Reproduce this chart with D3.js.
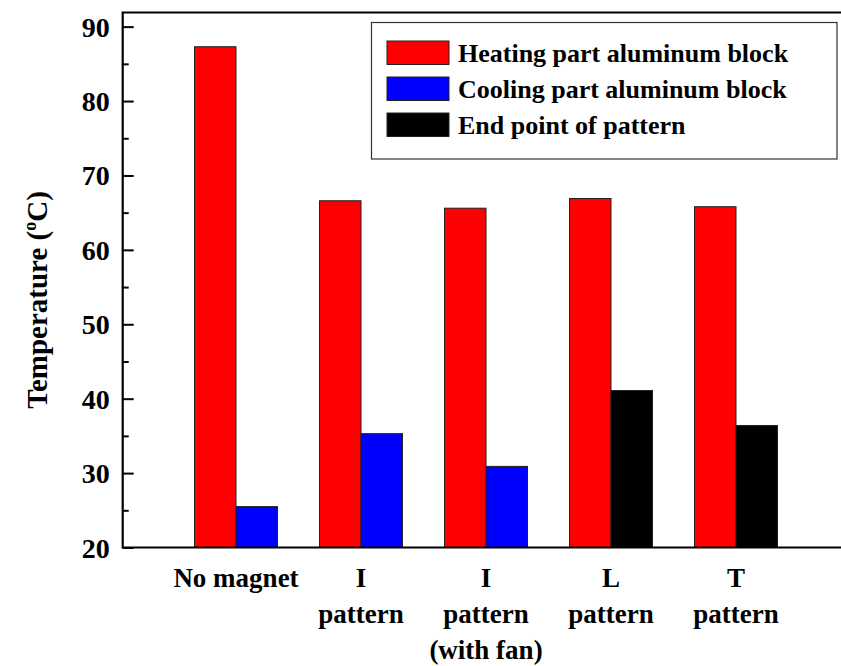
<!DOCTYPE html>
<html>
<head>
<meta charset="utf-8">
<script src="https://cdn.jsdelivr.net/npm/d3@7"></script>
<style>
  body { margin: 0; background: #fff; }
  svg { display: block; }
</style>
</head>
<body>
<div id="chart"></div>
<script>
const width = 841;
const height = 666;
const margin = { top: 12.5, right: -2, bottom: 118.5, left: 122.7 };
const fontFamily = "'Liberation Serif', 'Times New Roman', serif";

// data
const categories = ["No magnet", "I pattern", "I pattern (with fan)", "L pattern", "T pattern"];
const categoryLines = [["No magnet"], ["I", "pattern"], ["I", "pattern", "(with fan)"], ["L", "pattern"], ["T", "pattern"]];
const heatingValues = [87.3, 66.6, 65.6, 66.9, 65.8];
const secondValues = [25.5, 35.3, 30.9, 41.1, 36.4];
const secondSeries = ["cool", "cool", "cool", "end", "end"];
const seriesNames = ["Heating part aluminum block", "Cooling part aluminum block", "End point of pattern"];
const seriesColors = { heat: "#ff0000", cool: "#0000ff", end: "#000000" };
const yMajorTicks = [20, 30, 40, 50, 60, 70, 80, 90];
const yMinorTicks = [25, 35, 45, 55, 65, 75, 85];

const svg = d3.select("#chart")
  .append("svg")
  .attr("width", width)
  .attr("height", height);

const x = d3.scaleBand()
  .domain(categories)
  .range([173.5, 798.5])
  .paddingInner(0.336)
  .paddingOuter(0.168);

const xSub = d3.scaleBand()
  .domain(["first", "second"])
  .range([0, x.bandwidth()]);

const y = d3.scaleLinear()
  .domain([20, 91.9])
  .range([height - margin.bottom, margin.top]);

const rows = categories.map((c, i) => [
  { cat: c, sub: "first", value: heatingValues[i], color: seriesColors.heat },
  { cat: c, sub: "second", value: secondValues[i], color: seriesColors[secondSeries[i]] }
]).flat();

svg.selectAll("rect.bar")
  .data(rows)
  .enter()
  .append("rect")
  .attr("class", "bar")
  .attr("x", d => x(d.cat) + xSub(d.sub))
  .attr("y", d => y(d.value))
  .attr("width", xSub.bandwidth())
  .attr("height", d => y(20) - y(d.value))
  .attr("fill", d => d.color)
  .attr("stroke", "#222")
  .attr("stroke-width", 1);

// minor ticks
svg.append("g")
  .attr("transform", `translate(${margin.left},0)`)
  .call(d3.axisLeft(y).tickValues(yMinorTicks).tickSize(-6).tickFormat(""))
  .call(g => g.select(".domain").remove())
  .call(g => g.selectAll("line").attr("stroke", "#000").attr("stroke-width", 2));

// major ticks
svg.append("g")
  .attr("transform", `translate(${margin.left},0)`)
  .call(d3.axisLeft(y).tickValues(yMajorTicks).tickSize(-11).tickPadding(13).tickFormat(d3.format("d")))
  .call(g => g.select(".domain").remove())
  .call(g => g.selectAll("line").attr("stroke", "#000").attr("stroke-width", 2))
  .call(g => g.selectAll("text")
    .style("font-family", fontFamily)
    .style("font-weight", "bold")
    .style("font-size", "28px")
    .attr("fill", "#000")
    .attr("dy", "0.34em"));

// frame
svg.append("path")
  .attr("d", `M${width + 2},${margin.top}H${margin.left}V${y(20)}H${width + 2}`)
  .attr("fill", "none")
  .attr("stroke", "#000")
  .attr("stroke-width", 2.2);

// x labels
const xl = svg.append("g");
categories.forEach((c, i) => {
  const t = xl.append("text")
    .attr("text-anchor", "middle")
    .style("font-family", fontFamily)
    .style("font-weight", "bold")
    .style("font-size", "27px")
    .attr("fill", "#000");
  categoryLines[i].forEach((line, j) => {
    t.append("tspan")
      .attr("x", x(c) + x.bandwidth() / 2)
      .attr("y", 587 + j * 36)
      .text(line);
  });
});

// y title
const yt = svg.append("text")
  .attr("transform", "translate(47,300) rotate(-90)")
  .attr("text-anchor", "middle")
  .style("font-family", fontFamily)
  .style("font-weight", "bold")
  .style("font-size", "29px")
  .attr("fill", "#000");
yt.append("tspan").text("Temperature (");
yt.append("tspan").style("font-size", "18px").attr("dy", -11).text("o");
yt.append("tspan").attr("dy", 11).text("C)");

// legend
const legend = svg.append("g");
legend.append("rect")
  .attr("x", 371.5)
  .attr("y", 22.5)
  .attr("width", 465.5)
  .attr("height", 136.5)
  .attr("fill", "#fff")
  .attr("stroke", "#333")
  .attr("stroke-width", 1.2);

const legendColors = [seriesColors.heat, seriesColors.cool, seriesColors.end];
seriesNames.forEach((name, i) => {
  legend.append("rect")
    .attr("x", 387)
    .attr("y", 41 + i * 36)
    .attr("width", 62)
    .attr("height", 23.5)
    .attr("fill", legendColors[i])
    .attr("stroke", "#222")
    .attr("stroke-width", 1);
  legend.append("text")
    .attr("x", 458)
    .attr("y", 62 + i * 36)
    .style("font-family", fontFamily)
    .style("font-weight", "bold")
    .style("font-size", "26px")
    .attr("fill", "#000")
    .text(name);
});
</script>
</body>
</html>
